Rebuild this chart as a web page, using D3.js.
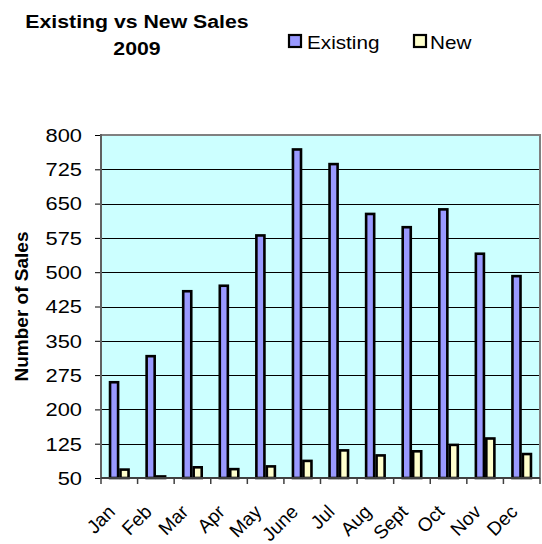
<!DOCTYPE html>
<html><head><meta charset="utf-8">
<script src="https://cdn.jsdelivr.net/npm/d3@7"></script>
<style>body{margin:0;background:#fff}svg{display:block}text{font-family:"Liberation Sans",Arial,sans-serif}</style>
</head><body>
<script>
const months = ["Jan","Feb","Mar","Apr","May","June","Jul","Aug","Sept","Oct","Nov","Dec"];
const existing = [262,319,461,473,583,771,739,630,601,640,543,494];
const newSales = [71,56,76,72,78,90,113,102,111,125,139,105];
const seriesNames = ["Existing","New"];
const yTicks = [50,125,200,275,350,425,500,575,650,725,800];
const colors = {Existing:"#9999FF", New:"#FFFFCC"};
const titleLines = ["Existing vs New Sales","2009"];
const yTitle = "Number of Sales";

const W=542,H=544, L=101, R=540, T=135, B=478;
const sx=1.15;
const svg=d3.select("body").append("svg").attr("width",W).attr("height",H);

function stext(g,x,y,str,opts={}){
  return g.append("text").attr("transform",`translate(${x},${y}) scale(${sx},1)`)
    .attr("font-size",opts.size||19).attr("font-weight",opts.bold?"bold":"normal")
    .attr("text-anchor",opts.anchor||"start").attr("fill","#000").text(str);
}

const x=d3.scaleBand().domain(months).range([L,R]).padding(0);
const x1=d3.scaleBand().domain(seriesNames).range([0,x.bandwidth()]).paddingInner(0).paddingOuter(0.75);
const y=d3.scaleLinear().domain([50,800]).range([B,T]);

svg.append("rect").attr("x",L).attr("y",T).attr("width",R-L).attr("height",B-T).attr("fill","#CCFFFF");
svg.append("g").selectAll("line").data(yTicks.filter(d=>d>50&&d<800)).join("line")
  .attr("x1",L).attr("x2",R).attr("y1",d=>Math.round(y(d))+0.5).attr("y2",d=>Math.round(y(d))+0.5)
  .attr("stroke","#000").attr("stroke-width",1);
svg.append("path").attr("d",`M${L},${T}H${R}V${B}`).attr("fill","none").attr("stroke","#808080").attr("stroke-width",2);

const data=months.map((m,i)=>({m,vals:[{k:"Existing",v:existing[i]},{k:"New",v:newSales[i]}]}));
svg.append("g").selectAll("g").data(data).join("g").attr("transform",d=>`translate(${x(d.m)},0)`)
  .selectAll("rect").data(d=>d.vals).join("rect")
  .attr("x",d=>x1(d.k)+1.2).attr("width",x1.bandwidth()-2.4)
  .attr("y",d=>y(d.v)+1.2).attr("height",d=>Math.max(0,B-y(d.v)-1.2))
  .attr("fill",d=>colors[d.k]).attr("stroke","#000").attr("stroke-width",2.6);

const ya=d3.axisLeft(y).tickValues(yTicks).tickSize(6).tickFormat("");
const yg=svg.append("g").attr("transform",`translate(${L},0)`).call(ya);
yg.select(".domain").remove();
yg.selectAll(".tick line").attr("stroke","#000");
yTicks.forEach(v=>stext(svg,82,y(v)+6.8,String(v),{anchor:"end"}));
svg.append("line").attr("x1",L).attr("x2",L).attr("y1",T-1).attr("y2",B+1).attr("stroke","#606060").attr("stroke-width",2);

const xb=svg.append("g");
xb.append("line").attr("x1",L).attr("x2",R).attr("y1",B).attr("y2",B).attr("stroke","#404040").attr("stroke-width",2);
xb.selectAll("line.t").data(months.map(m=>x(m)).concat([R])).join("line").attr("class","t")
  .attr("x1",d=>d).attr("x2",d=>d).attr("y1",B).attr("y2",B+6).attr("stroke","#404040").attr("stroke-width",1.5);
months.forEach(m=>{
  const cx=x(m)+x.bandwidth()/2-3;
  svg.append("text").attr("transform",`translate(${cx},${513}) rotate(-45)`)
    .attr("font-size",19).attr("text-anchor","end").text(m);
});

svg.append("text").attr("transform",`translate(28,${(T+B)/2}) rotate(-90)`).attr("font-size",19)
  .attr("font-weight","bold").attr("text-anchor","middle").text(yTitle);

stext(svg,137,28,titleLines[0],{anchor:"middle",bold:true,size:18.5});
stext(svg,137,55,titleLines[1],{anchor:"middle",bold:true,size:18.5});

const leg=[{k:"Existing",bx:289,tx:307},{k:"New",bx:414,tx:430}];
leg.forEach(l=>{
  svg.append("rect").attr("x",l.bx).attr("y",35).attr("width",12).attr("height",12)
    .attr("fill",colors[l.k]).attr("stroke","#000").attr("stroke-width",2.2);
  stext(svg,l.tx,48.5,l.k,{size:18});
});
</script>
</body></html>
